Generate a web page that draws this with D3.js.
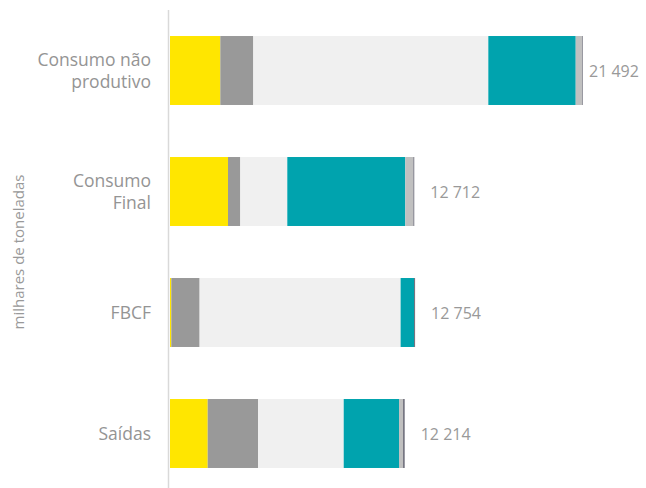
<!DOCTYPE html>
<html>
<head>
<meta charset="utf-8">
<script src="https://cdn.jsdelivr.net/npm/d3@7"></script>
<style>
  body { margin: 0; background: #fff; }
  text { font-family: "Open Sans", "Noto Sans", sans-serif; }
</style>
</head>
<body>
<div id="chart"></div>
<script>
/* Categories (top to bottom) and stacked series values, thousands of tonnes */
let categories = ["Consumo não produtivo", "Consumo Final", "FBCF", "Saídas"];
let categoryLines = [["Consumo não", "produtivo"], ["Consumo", "Final"], ["FBCF"], ["Saídas"]];
let seriesNames = ["s1", "s2", "s3", "s4", "s5", "s6"];
let s1 = [2618, 3018, 68, 1962];
let s2 = [1717, 640, 1473, 2618];
let s3 = [12230, 2446, 10460, 4460];
let s4 = [4548, 6141, 697, 2878];
let s5 = [343, 416, 0, 208];
let s6 = [36, 51, 56, 88];
let totals = [21492, 12712, 12754, 12214];
let totalLabels = ["21 492", "12 712", "12 754", "12 214"];
let yTitle = "milhares de toneladas";

let colors = ["#FFE600", "#999999", "#F0F0F0", "#00A3AE", "#C0C0C0", "#747480"];

/* Dimensions */
let width = 646;
let height = 488;
let margin = {top: 10, bottom: -6, left: 170, right: 63};

let svg = d3.select("#chart").append("svg")
            .attr("width", width)
            .attr("height", height);

let x = d3.scaleLinear()
          .domain([0, 21492])
          .range([margin.left, width - margin.right]);

let y = d3.scaleBand()
          .domain(categories)
          .range([margin.top, height - margin.bottom])
          .paddingInner(0.43)
          .paddingOuter(0.215);

// build rows for the stack
let rows = categories.map((c, i) => {
  let r = {cat: c};
  [s1, s2, s3, s4, s5, s6].forEach((s, j) => r[seriesNames[j]] = s[i]);
  return r;
});

let stacked = d3.stack().keys(seriesNames)(rows);

svg.append("g")
   .selectAll("g")
   .data(stacked)
   .join("g")
     .attr("fill", (d, i) => colors[i])
   .selectAll("rect")
   .data(d => d)
   .join("rect")
     .attr("x", d => x(d[0]))
     .attr("y", d => y(d.data.cat))
     .attr("width", d => Math.max(0, x(d[1]) - x(d[0])))
     .attr("height", y.bandwidth());

// vertical axis line
svg.append("line")
   .attr("x1", 168.5)
   .attr("x2", 168.5)
   .attr("y1", 10)
   .attr("y2", height)
   .attr("stroke", "#d9d9d9")
   .attr("stroke-width", 1.5);

// category labels
categories.forEach((c, i) => {
  let lines = categoryLines[i];
  let cy = y(c) + y.bandwidth() / 2;
  let t = svg.append("text")
             .attr("text-anchor", "end")
             .attr("fill", "#949494")
             .attr("font-size", 17.5);
  lines.forEach((l, k) => {
    t.append("tspan")
     .attr("x", 151)
     .attr("y", cy + 6 + (k - (lines.length - 1) / 2) * 22)
     .text(l);
  });
});

// total labels
totals.forEach((v, i) => {
  svg.append("text")
     .attr("x", Math.min(x(v) + 16, 589))
     .attr("y", y(categories[i]) + y.bandwidth() / 2 + 6)
     .attr("fill", "#999")
     .attr("font-size", 16)
     .text(totalLabels[i]);
});

// y title
svg.append("text")
   .attr("transform", "translate(24, 252) rotate(-90)")
   .attr("text-anchor", "middle")
   .attr("fill", "#999")
   .attr("font-size", 15)
   .text(yTitle);
</script>
</body>
</html>
